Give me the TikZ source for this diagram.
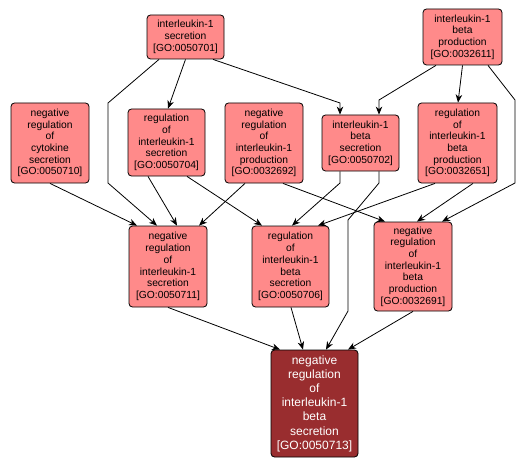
\documentclass[tikz,border=0pt]{standalone}
\usepackage{fontspec}
\setmainfont{Liberation Sans}
\usetikzlibrary{arrows.meta}
\definecolor{lightnode}{RGB}{255,138,138}
\definecolor{darknode}{RGB}{153,45,47}
\begin{document}
\begin{tikzpicture}[x=1pt,y=-1pt,
 term/.style={draw=black, line width=0.8pt, rounded corners=3.5pt, fill=lightnode, align=center, inner sep=0pt, font=\fontsize{10.3}{11.7}\selectfont},
 mainterm/.style={term, fill=darknode, text=white, font=\fontsize{12}{14.2}\selectfont},
 edge/.style={draw=black, line width=0.8pt, -{Stealth[length=8pt,width=6.5pt,inset=2.5pt]}},
]
\useasboundingbox (0,0) rectangle (527,468);

\node[term, minimum width=77pt, minimum height=44pt] (A) at (185.5,37) {interleukin-1\\secretion\\{}[GO:0050701]};
\node[term, minimum width=79pt, minimum height=56pt] (B) at (462.5,37) {interleukin-1\\beta\\production\\{}[GO:0032611]};
\node[term, minimum width=78pt, minimum height=80pt] (C) at (50,143) {negative\\regulation\\of\\cytokine\\secretion\\{}[GO:0050710]};
\node[term, minimum width=77pt, minimum height=67pt] (D) at (166.5,142.5) {regulation\\of\\interleukin-1\\secretion\\{}[GO:0050704]};
\node[term, minimum width=78pt, minimum height=80pt] (E) at (264,143) {negative\\regulation\\of\\interleukin-1\\production\\{}[GO:0032692]};
\node[term, minimum width=77pt, minimum height=56pt] (F) at (360.5,143) {interleukin-1\\beta\\secretion\\{}[GO:0050702]};
\node[term, minimum width=79pt, minimum height=80pt] (G) at (457.5,143) {regulation\\of\\interleukin-1\\beta\\production\\{}[GO:0032651]};
\node[term, minimum width=78pt, minimum height=81pt] (H) at (168,266.5) {negative\\regulation\\of\\interleukin-1\\secretion\\{}[GO:0050711]};
\node[term, minimum width=77pt, minimum height=81pt] (I) at (290.5,266.5) {regulation\\of\\interleukin-1\\beta\\secretion\\{}[GO:0050706]};
\node[term, minimum width=78pt, minimum height=89pt] (J) at (413,266.5) {negative\\regulation\\of\\interleukin-1\\beta\\production\\{}[GO:0032691]};
\node[mainterm, minimum width=87pt, minimum height=107pt] (K) at (314.5,403.5) {negative\\regulation\\of\\interleukin-1\\beta\\secretion\\{}[GO:0050713]};

\draw[edge] (A.south) -- ([xshift=1.5pt]D.north);
\draw[edge] ([xshift=-26.5pt]A.south) -- (108,103) -- (108,183) -- ([xshift=-11pt]H.north);
\draw[edge] ([xshift=27.5pt]A.south) -- (340,103) -- ([xshift=-20.5pt]F.north);
\draw[edge] ([xshift=-26.5pt]B.south) -- (379,100) -- ([xshift=18.5pt]F.north);
\draw[edge] (B.south) -- ([xshift=0.5pt]G.north);
\draw[edge] ([xshift=25.5pt]B.south) -- (515,100) -- (515,183) -- ([xshift=29pt]J.north);
\draw[edge] (C.south) -- ([xshift=-31pt]H.north);
\draw[edge] ([xshift=-18.5pt]D.south) -- ([xshift=9pt]H.north);
\draw[edge] ([xshift=20.5pt]D.south) -- ([xshift=-28.5pt]I.north);
\draw[edge] ([xshift=-19pt]E.south) -- ([xshift=31pt]H.north);
\draw[edge] ([xshift=19pt]E.south) -- ([xshift=-28pt]J.north);
\draw[edge] ([xshift=-20.5pt]F.south) -- (340,183) -- ([xshift=1.5pt]I.north);
\draw[edge] ([xshift=18.5pt]F.south) -- (379,183) -- (348,220) -- (348,311) -- ([xshift=11.5pt]K.north);
\draw[edge] ([xshift=-22.5pt]G.south) -- ([xshift=27.5pt]I.north);
\draw[edge] ([xshift=15.5pt]G.south) -- ([xshift=4pt]J.north);
\draw[edge] (H.south) -- ([xshift=-34.5pt]K.north);
\draw[edge] ([xshift=0.5pt]I.south) -- ([xshift=-11.5pt]K.north);
\draw[edge] (J.south) -- ([xshift=33.5pt]K.north);
\end{tikzpicture}
\end{document}
